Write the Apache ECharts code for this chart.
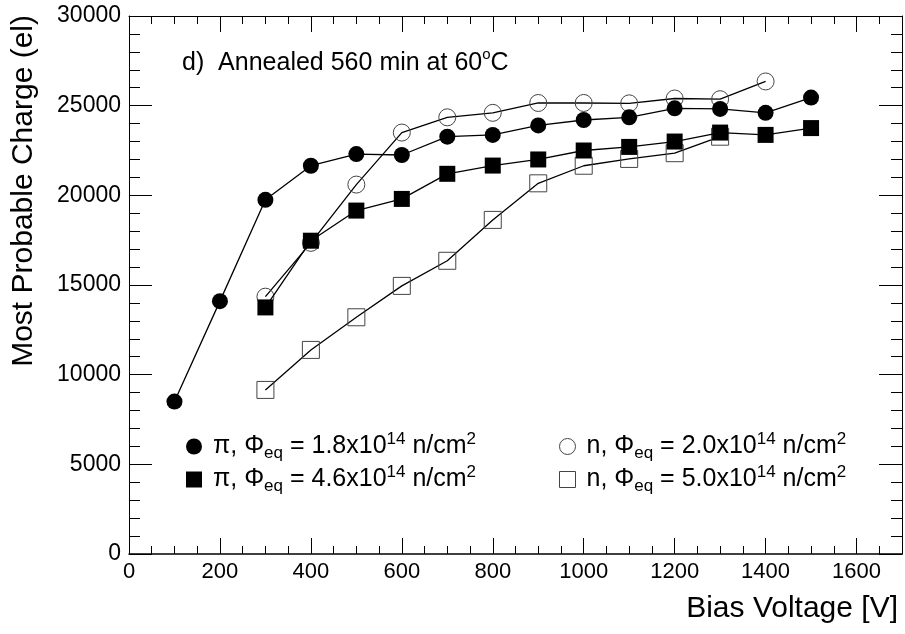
<!DOCTYPE html>
<html>
<head>
<meta charset="utf-8">
<script src="https://cdn.jsdelivr.net/npm/echarts@6/dist/echarts.min.js"></script>
<style>html,body{margin:0;padding:0;background:#fff;}#c{width:905px;height:634px;}</style>
</head>
<body>
<div id="c"></div>
<script>
// ---- data ----
const piLowVolt  = [100, 200, 300, 400, 500, 600, 700, 800, 900, 1000, 1100, 1200, 1300, 1400, 1500];
const piLowQ     = [8500, 14100, 19750, 21650, 22300, 22250, 23270, 23370, 23900, 24200, 24350, 24850, 24820, 24600, 25450];
const piHighVolt = [300, 400, 500, 600, 700, 800, 900, 1000, 1100, 1200, 1300, 1400, 1500];
const piHighQ    = [13750, 17470, 19150, 19800, 21200, 21660, 22000, 22500, 22700, 23000, 23500, 23370, 23750];
const nLowVolt   = [300, 400, 500, 600, 700, 800, 900, 1000, 1100, 1200, 1300, 1400];
const nLowQ      = [14350, 17350, 20600, 23500, 24350, 24600, 25150, 25150, 25130, 25400, 25360, 26350];
const nHighVolt  = [300, 400, 500, 600, 700, 800, 900, 1000, 1100, 1200, 1300];
const nHighQ     = [9150, 11380, 13200, 14950, 16350, 18630, 20670, 21650, 22030, 22350, 23270];

const nameNames = {
  piLow:  'π, Φeq = 1.8x10^14 n/cm^2',
  piHigh: 'π, Φeq = 4.6x10^14 n/cm^2',
  nLow:   'n, Φeq = 2.0x10^14 n/cm^2',
  nHigh:  'n, Φeq = 5.0x10^14 n/cm^2'
};
const richLabel = {
  [nameNames.piLow]:  '{t|π, Φ}{sub|eq}{t| = 1.8x10}{sup|14}{t| n/cm}{sup|2}',
  [nameNames.piHigh]: '{t|π, Φ}{sub|eq}{t| = 4.6x10}{sup|14}{t| n/cm}{sup|2}',
  [nameNames.nLow]:   '{t|n, Φ}{sub|eq}{t| = 2.0x10}{sup|14}{t| n/cm}{sup|2}',
  [nameNames.nHigh]:  '{t|n, Φ}{sub|eq}{t| = 5.0x10}{sup|14}{t| n/cm}{sup|2}'
};

const FONT = 'Liberation Sans, Arial, sans-serif';
const zip = (xs, ys) => xs.map((x, i) => [x, ys[i]]);

const legendText = {
  fontFamily: FONT, fontSize: 25, color: '#000', padding: [0, 0, 0, 6],
  rich: {
    t:   { fontFamily: FONT, fontSize: 25, color: '#000', lineHeight: 31, verticalAlign: 'middle' },
    sub: { fontFamily: FONT, fontSize: 17, color: '#000', lineHeight: 31, verticalAlign: 'bottom' },
    sup: { fontFamily: FONT, fontSize: 17, color: '#000', lineHeight: 31, verticalAlign: 'top' }
  }
};

const xCommon = { type: 'value', min: 0, max: 1700, gridIndex: 0, splitLine: { show: false } };
const yCommon = { type: 'value', min: 0, max: 30000, interval: 5000, gridIndex: 0, splitLine: { show: false } };
const plain = v => String(v);

const option = {
  animation: false,
  backgroundColor: '#fff',
  grid: { left: 129, right: 3, top: 16, bottom: 80 },
  title: {
    left: 177, top: 42,
    text: '{a|d)  Annealed 560 min at 60}{s|o}{a|C}',
    textStyle: {
      rich: {
        a: { fontFamily: FONT, fontSize: 25, fontWeight: 'normal', color: '#000', lineHeight: 32, verticalAlign: 'middle' },
        s: { fontFamily: FONT, fontSize: 15, fontWeight: 'normal', color: '#000', lineHeight: 32, verticalAlign: 'top' }
      }
    }
  },
  xAxis: [
    Object.assign({}, xCommon, {
      position: 'bottom', interval: 200,
      axisLine: { show: true, onZero: false, lineStyle: { color: '#000', width: 1.5 } },
      axisTick: { show: true, inside: true, length: 16, lineStyle: { color: '#000' } },
      axisLabel: { show: true, showMaxLabel: false, margin: 7, fontFamily: FONT, fontSize: 22, color: '#000', formatter: plain }
    }),
    Object.assign({}, xCommon, {
      position: 'bottom', interval: 50,
      axisLine: { show: false, onZero: false },
      axisTick: { show: true, inside: true, length: 8, lineStyle: { color: '#000' } },
      axisLabel: { show: false }
    }),
    Object.assign({}, xCommon, {
      position: 'top', interval: 200,
      axisLine: { show: true, onZero: false, lineStyle: { color: '#000', width: 1 } },
      axisTick: { show: true, inside: true, length: 16, lineStyle: { color: '#000' } },
      axisLabel: { show: false }
    }),
    Object.assign({}, xCommon, {
      position: 'top', interval: 50,
      axisLine: { show: false, onZero: false },
      axisTick: { show: true, inside: true, length: 8, lineStyle: { color: '#000' } },
      axisLabel: { show: false }
    })
  ],
  yAxis: [
    Object.assign({}, yCommon, {
      position: 'left',
      axisLine: { show: true, onZero: false, lineStyle: { color: '#000', width: 1 } },
      axisTick: { show: true, inside: true, length: 23, lineStyle: { color: '#000' } },
      minorTick: { show: true, splitNumber: 5, length: 11, lineStyle: { color: '#000' } },
      axisLabel: { show: true, margin: 8, fontFamily: FONT, fontSize: 23, color: '#000', formatter: plain }
    }),
    Object.assign({}, yCommon, {
      position: 'right',
      axisLine: { show: true, onZero: false, lineStyle: { color: '#000', width: 1 } },
      axisTick: { show: true, inside: true, length: 23, lineStyle: { color: '#000' } },
      minorTick: { show: true, splitNumber: 5, length: 11, lineStyle: { color: '#000' } },
      axisLabel: { show: false }
    })
  ],
  legend: [
    {
      orient: 'vertical', left: 181, top: 426, itemGap: 2,
      itemWidth: 16, itemHeight: 16, selectedMode: false,
      textStyle: legendText,
      formatter: n => richLabel[n],
      data: [
        { name: nameNames.piLow, icon: 'circle', itemStyle: { color: '#000' } },
        { name: nameNames.piHigh, icon: 'rect', itemStyle: { color: '#000' } }
      ]
    },
    {
      orient: 'vertical', left: 554, top: 426, itemGap: 2,
      itemWidth: 16, itemHeight: 16, selectedMode: false,
      textStyle: legendText,
      formatter: n => richLabel[n],
      data: [
        { name: nameNames.nLow, icon: 'circle', itemStyle: { color: '#fff', borderColor: '#444', borderWidth: 1 } },
        { name: nameNames.nHigh, icon: 'rect', itemStyle: { color: '#fff', borderColor: '#444', borderWidth: 1 } }
      ]
    }
  ],
  graphic: [
    {
      type: 'text', right: 7, top: 594,
      style: { text: 'Bias Voltage [V]', font: '30px ' + FONT, fill: '#000' }
    },
    {
      type: 'text', x: 24, y: 15, rotation: Math.PI / 2,
      style: { text: 'Most Probable Charge (el)', font: '30px ' + FONT, fill: '#000',
               textAlign: 'right', align: 'right', textVerticalAlign: 'middle', verticalAlign: 'middle' }
    }
  ],
  series: [
    {
      name: nameNames.nLow, type: 'line', xAxisIndex: 0, yAxisIndex: 0,
      data: zip(nLowVolt, nLowQ), symbol: 'circle', symbolSize: 17,
      itemStyle: { color: 'rgba(255,255,255,0)', borderColor: '#444', borderWidth: 1 },
      lineStyle: { color: '#000', width: 1.3 }, z: 2
    },
    {
      name: nameNames.nHigh, type: 'line', xAxisIndex: 0, yAxisIndex: 0,
      data: zip(nHighVolt, nHighQ), symbol: 'rect', symbolSize: 17,
      itemStyle: { color: 'rgba(255,255,255,0)', borderColor: '#444', borderWidth: 1 },
      lineStyle: { color: '#000', width: 1.3 }, z: 2
    },
    {
      name: nameNames.piLow, type: 'line', xAxisIndex: 0, yAxisIndex: 0,
      data: zip(piLowVolt, piLowQ), symbol: 'circle', symbolSize: 16,
      itemStyle: { color: '#000' },
      lineStyle: { color: '#000', width: 1.3 }, z: 3
    },
    {
      name: nameNames.piHigh, type: 'line', xAxisIndex: 0, yAxisIndex: 0,
      data: zip(piHighVolt, piHighQ), symbol: 'rect', symbolSize: 16,
      itemStyle: { color: '#000' },
      lineStyle: { color: '#000', width: 1.3 }, z: 3
    }
  ]
};

const chart = echarts.init(document.getElementById('c'), null, { renderer: 'canvas' });
chart.setOption(option);
</script>
</body>
</html>
